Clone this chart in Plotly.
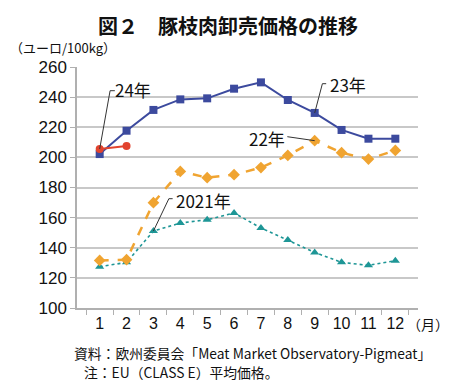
import plotly.graph_objects as go

months = ["1", "2", "3", "4", "5", "6", "7", "8", "9", "10", "11", "12"]
y2023 = [202.2, 217.7, 231.5, 238.5, 239.2, 245.6, 249.8, 238.1, 229.5, 218.2, 212.4, 212.4]
y2024 = [205.6, 207.6]
y2022 = [131.6, 132.1, 169.9, 190.7, 186.5, 188.5, 193.2, 201.3, 211.1, 203.1, 198.9, 204.6]
y2021 = [127.4, 130.3, 151.1, 156.4, 158.6, 163.1, 153.1, 145.1, 136.9, 130.3, 128.3, 131.4]
y_ticks = [100, 120, 140, 160, 180, 200, 220, 240, 260]

title_text = "図２　豚枝肉卸売価格の推移"
unit_text = "（ユーロ/100kg）"
month_unit = "（月）"
source_text = "資料：欧州委員会「Meat Market Observatory-Pigmeat」"
note_text = "注：EU（CLASS E）平均価格。"

JP = "Noto Sans CJK JP"
NUM = "Liberation Sans, Arial, Noto Sans CJK JP"

fig = go.Figure()
fig.add_trace(go.Scatter(x=months, y=y2021, mode="lines+markers", name="2021年",
                         line=dict(color="#1E9696", width=1.6, dash="dot"),
                         marker=dict(symbol="triangle-up", size=8, color="#1E9696")))
fig.add_trace(go.Scatter(x=months, y=y2022, mode="lines+markers", name="22年",
                         line=dict(color="#F0A431", width=2.5, dash="dash"),
                         marker=dict(symbol="diamond", size=9, color="#F0A431")))
fig.add_trace(go.Scatter(x=months, y=y2023, mode="lines+markers", name="23年",
                         line=dict(color="#3C4A9E", width=2),
                         marker=dict(symbol="square", size=8, color="#3C4A9E")))
fig.add_trace(go.Scatter(x=months[:len(y2024)], y=y2024, mode="lines+markers", name="24年",
                         line=dict(color="#E2432E", width=2),
                         marker=dict(symbol="circle", size=8, color="#E2432E")))

# page has an 8px body margin: figure is placed at (8, 8)
OFF = 8
W, H = 450 - OFF, 387 - OFF
PL, PR, PT, PB = 77, 418, 67, 308          # plot area in page pixels
L, T = PL - OFF, PT - OFF
R, B = W - (PR - OFF), H - (PB - OFF)
pw = PR - PL
ph = PB - PT

def px(x):
    return (x - PL) / pw

def py(y):
    return (PB - y) / ph

def ix(x):
    return (x - 91) / 28.36

def vy(y):
    return 100 + (308.3 - y) * 0.6639

lc = "#333333"
shapes = [
    dict(type="path", xref="x", yref="y",
         path=f"M 0,{y2024[0]} L {ix(102)},{vy(91)} L {ix(107)},{vy(91)}",
         line=dict(color=lc, width=1)),
    dict(type="path", xref="x", yref="y",
         path=f"M 8,{y2023[8]} L {ix(326)},{vy(84)} L {ix(330)},{vy(84)}",
         line=dict(color=lc, width=1)),
    dict(type="path", xref="x", yref="y",
         path=f"M {ix(289)},{vy(137)} L 8,{y2022[8]}",
         line=dict(color=lc, width=1)),
    dict(type="path", xref="x", yref="y",
         path=f"M 2,{y2021[2]} L {ix(164)},{vy(199)} L {ix(168)},{vy(199)}",
         line=dict(color=lc, width=1)),
]

lab_font = dict(family=JP, size=17, color="#111111")
annotations = [
    dict(text="24年", xref="x", yref="y", x=ix(105), y=vy(90), xanchor="left", yanchor="middle",
         showarrow=False, font=lab_font),
    dict(text="23年", xref="x", yref="y", x=ix(332), y=vy(85), xanchor="left", yanchor="middle",
         showarrow=False, font=lab_font),
    dict(text="22年", xref="x", yref="y", x=ix(246), y=vy(139), xanchor="left", yanchor="middle",
         showarrow=False, font=lab_font),
    dict(text="2021年", xref="x", yref="y", x=ix(169), y=vy(201), xanchor="left", yanchor="middle",
         showarrow=False, font=lab_font),
    dict(text="<b>" + title_text + "</b>", xref="paper", yref="paper", x=px(227.5), y=py(OFF + 0.5),
         xanchor="center", yanchor="top", showarrow=False,
         font=dict(family=JP, size=20, color="#111111")),
    dict(text=unit_text, xref="paper", yref="paper", x=px(OFF), y=py(47),
         xanchor="left", yanchor="middle", showarrow=False,
         font=dict(family=JP, size=13, color="#111111")),
    dict(text=month_unit, xref="paper", yref="paper", x=px(405), y=py(324),
         xanchor="left", yanchor="middle", showarrow=False,
         font=dict(family=JP, size=14, color="#111111")),
    dict(text=source_text, xref="paper", yref="paper", x=px(72), y=py(353),
         xanchor="left", yanchor="middle", showarrow=False,
         font=dict(family=JP, size=13.8, color="#111111")),
    dict(text=note_text, xref="paper", yref="paper", x=px(82), y=py(372),
         xanchor="left", yanchor="middle", showarrow=False,
         font=dict(family=JP, size=13.8, color="#111111")),
]

fig.update_layout(
    width=W, height=H,
    margin=dict(l=L, r=R, t=T, b=B, pad=0),
    paper_bgcolor="white", plot_bgcolor="white",
    showlegend=False,
    shapes=shapes,
    annotations=annotations,
    xaxis=dict(type="category", categoryorder="array", categoryarray=months,
               tickson="boundaries", ticks="outside", ticklen=5, tickcolor="#b0b0b0",
               showline=True, linecolor="#b0b0b0", linewidth=1.5, tickangle=0,
               showgrid=False, zeroline=False, automargin=False,
               tickfont=dict(family=NUM, size=16, color="#111111")),
    yaxis=dict(range=[100, 260], tickvals=y_ticks, ticks="outside", ticklen=5,
               tickcolor="#b0b0b0", showline=True, linecolor="#b0b0b0", linewidth=1.5,
               showgrid=True, gridcolor="#c8c8c8", gridwidth=1.5, zeroline=False,
               automargin=False,
               tickfont=dict(family=NUM, size=17, color="#111111")),
)

fig.write_html("out.html")
